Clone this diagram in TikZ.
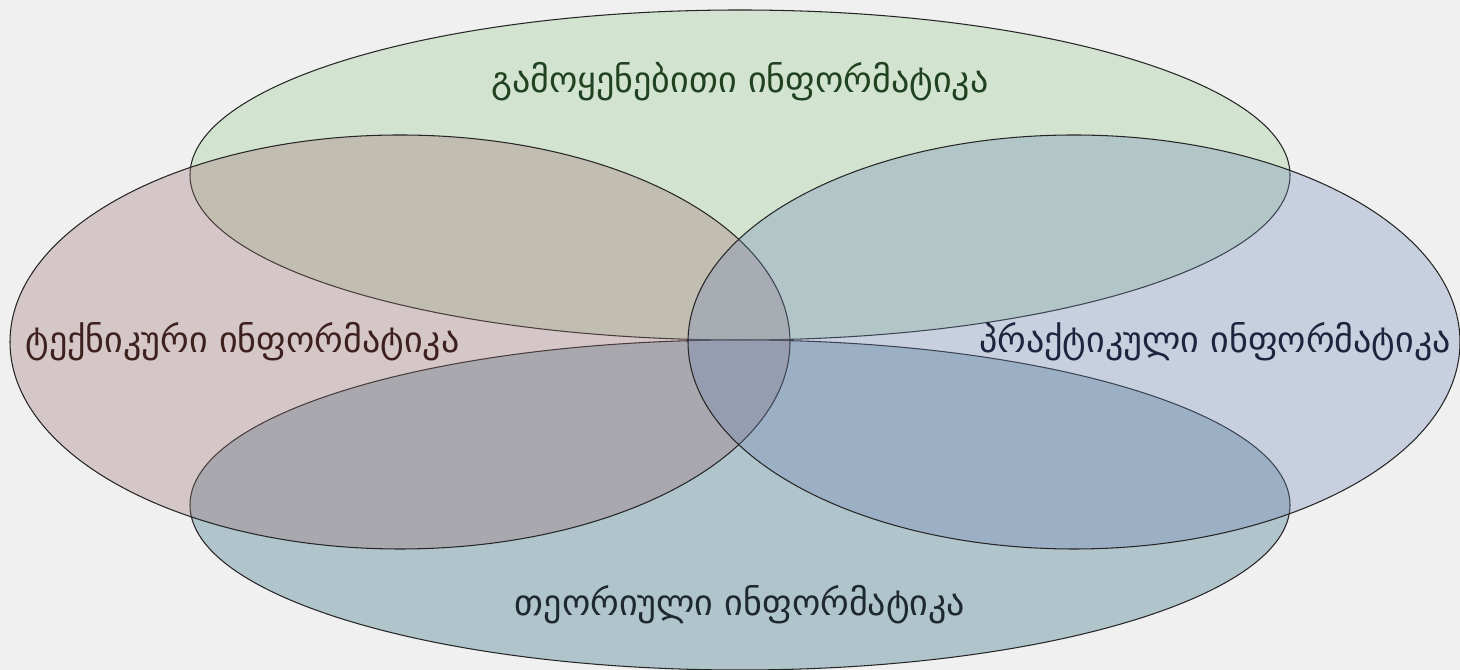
\documentclass[tikz,border=0pt]{standalone}
\usepackage{fontspec}
\newfontfamily\geofont[Script=Georgian]{DejaVu Sans}
\definecolor{bgcol}{RGB}{240,240,240}
\definecolor{appcol}{RGB}{210,228,208}
\definecolor{techcol}{RGB}{156,108,110}
\definecolor{praccol}{RGB}{111,134,182}
\definecolor{theocol}{RGB}{176,196,204}
\definecolor{apptext}{RGB}{32,66,32}
\definecolor{techtext}{RGB}{62,32,32}
\definecolor{practext}{RGB}{30,36,62}
\definecolor{theotext}{RGB}{30,40,46}
\tikzset{
  field/.style={draw=black!85,line width=0.6pt},
  label/.style={font=\geofont\fontsize{20.5}{24}\selectfont,inner sep=0pt}
}
\begin{document}
\begin{tikzpicture}
  \fill[bgcol] (0,0) rectangle (29.2,13.4);
  \useasboundingbox (0,0) rectangle (29.2,13.4);
  \filldraw[field,fill=appcol]  (14.8,9.9)  ellipse (11 and 3.3);
  \filldraw[field,fill=theocol] (14.8,3.3)  ellipse (11 and 3.3);
  \begin{scope}[fill opacity=0.31]
    \filldraw[field,fill=techcol] (8.0,6.56)   ellipse (7.8 and 4.14);
    \filldraw[field,fill=praccol] (21.48,6.56) ellipse (7.72 and 4.14);
  \end{scope}
  \node[label,text=apptext]  (app)  at (14.8,11.76) {გამოყენებითი ინფორმატიკა};
  \node[label,text=techtext] (tech) at (4.85,6.56)  {ტექნიკური ინფორმატიკა};
  \node[label,text=practext] (prac) at (24.3,6.56)  {პრაქტიკული ინფორმატიკა};
  \node[label,text=theotext] (theo) at (14.8,1.3)   {თეორიული ინფორმატიკა};
\end{tikzpicture}
\end{document}
